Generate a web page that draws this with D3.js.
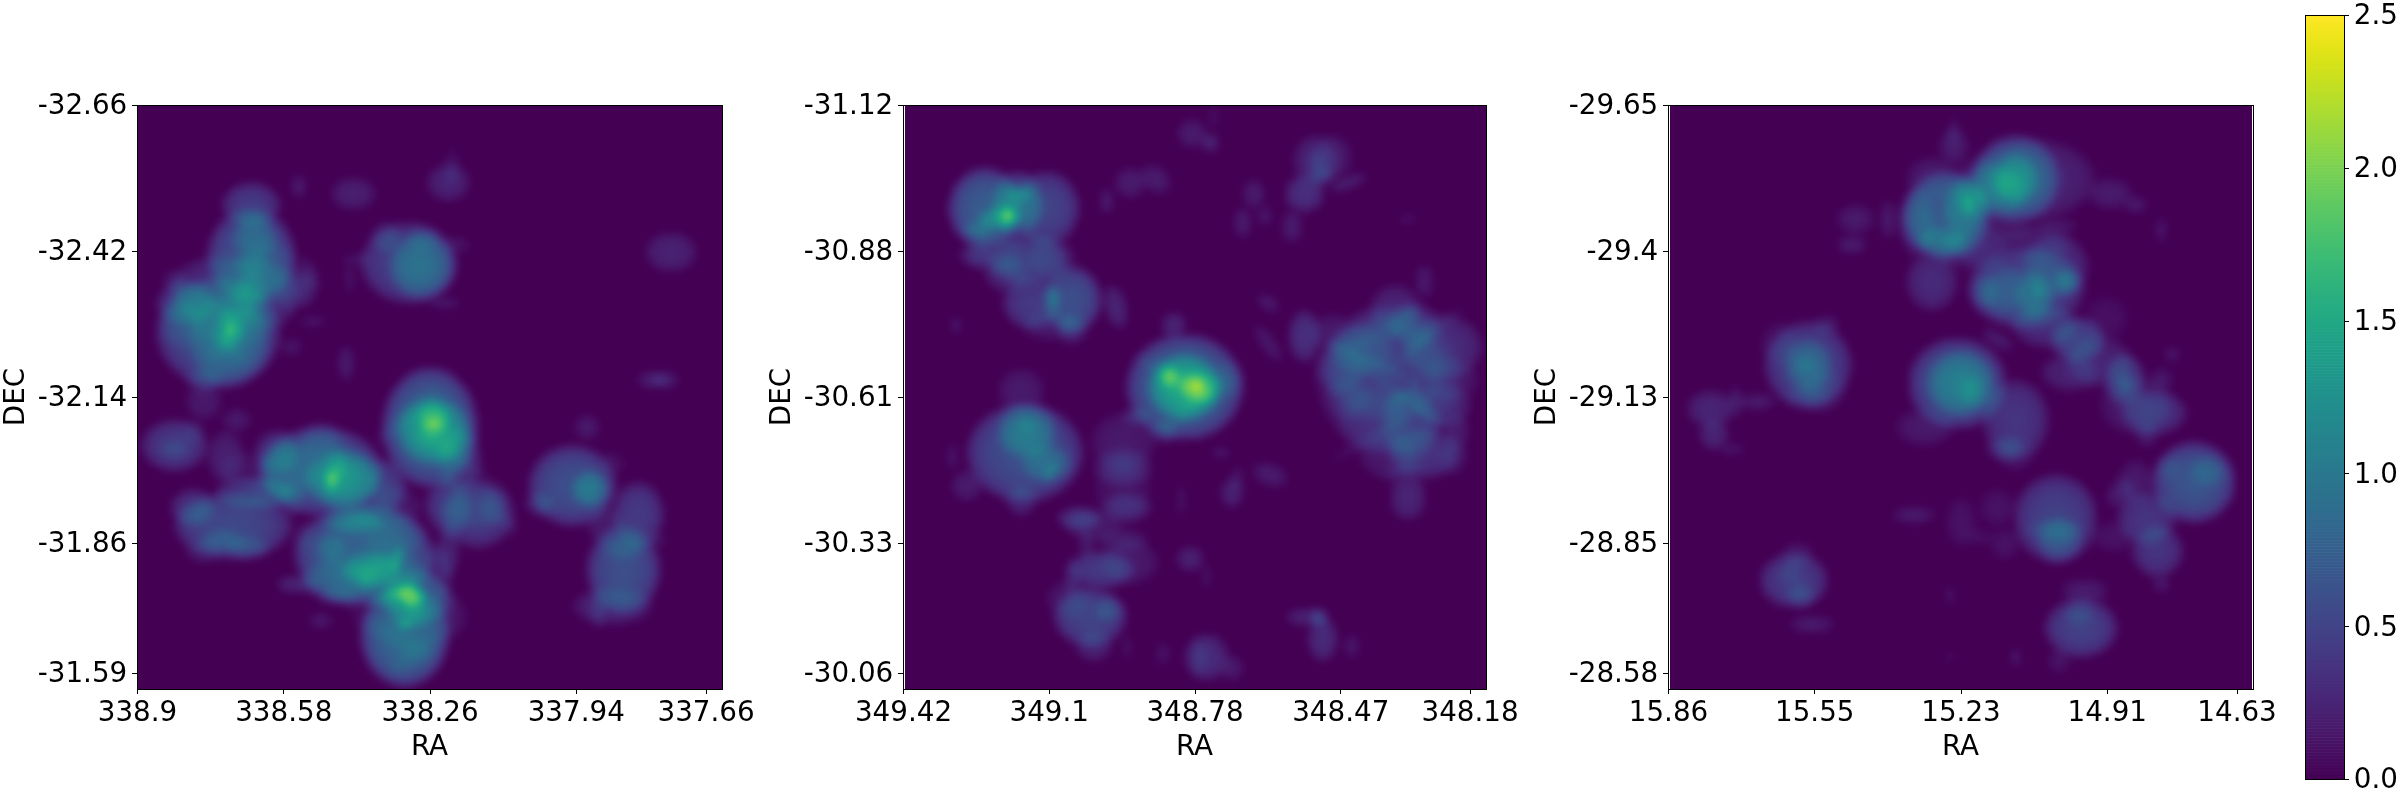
<!DOCTYPE html>
<html><head><meta charset="utf-8">
<script src="https://cdn.jsdelivr.net/npm/d3@7"></script>
<style>html,body{margin:0;padding:0;background:#fff;width:2400px;height:800px;overflow:hidden}
#w{position:relative;width:2400px;height:800px}canvas{position:absolute}svg{position:absolute;left:0;top:0}
text{font-family:"DejaVu Sans";font-size:27.78px;fill:#000}</style></head><body><div id="w"></div>
<script>
const patchesLeft=[[31,27,8,6,.42],[31,41,12,13,.62],[32,36,6,6,.3],[31,43,5,2.5,.26],[35,52,9,9,.3],[22,62,17,15,.6],[25,64,11,13,.36],[25,61,4,6,.36],[25,61,1.5,2,.36],[13,54,8,6,.36],[42,50,5,6,.18],[46,50,3,5,.17],[48,59,3,1.5,.17],[47,46,2,5,.18,-20],[42,66,3,2,.14],[10,48,3,3,.18],[18,75,5,3,.26],
[22,50,13,9,.3],[36,46,9,9,.16],[30,60,7,5,.12],[12,60,6,6,.18],[20,62,14,2.5,.12,40],[28,60,14,2.5,.12,-50],
[59,24,6,4.5,.22],[85,21,6,5,.24],[44,22,2,3,.18],[86,17,2,5,.12],[74,43,13,11,.48],[78,44,9,9,.48],[68,36,4,4,.24],[78,36,5,3,.18],[84,54,4,1.5,.18],[60,42,4,1.5,.14],[58,47,1.5,4,.14],[87,38,4,2,.14],[146,40,7,5.5,.24],[142.5,75,6,2.5,.22],[143,75,2.5,1.2,.18],[57,70.5,2,5,.19],
[80,88,13,16.5,.78],[81,89,10,9,.6],[81,86,4.5,5,.42],[81,87,2,1,.36],[88,97,6,9,.3],[85,95,12,2.5,.12,30],[74,85,12,2.5,.12,-40],
[50,100,17,12,.66],[56,102,10,8,.54],[53,103,2,3,.42],[50,92,6,5,.24],[38,95,6,6,.36],[54,99,3,5,.3,30],[68,104,5,7,.26],[62,105,12,9,.22],[42,100,8,8,.24],[30,100,8,5,.12],[36,106,6,4,.17],
[62,123,19,14,.78],[64,127,8,5,.48],[59,114,8,3,.48],[53,121,4,4,.26],[71,124,1.5,4,.42,15],[70,118,8,6,.18],[73,145,12,14,.84],[76,135,9,8,.54],[75,134,4,3,.54],[73,142,2,1.5,.54],[76,137,3,4,.18],[44,131,6,2.5,.26],[55,134,6,2,.18],[50,141,3,2,.17],[84,136,3,5,.18],[55,130,10,6,.24],[82,128,4,8,.24],[86,140,4,6,.12],[70,145,14,3,.12,30],[78,148,12,3,.12,-40],[68,110,10,6,.17],[70,130,10,8,.25],
[26,115,16,9,.54],[32,106,11,4.5,.36],[15,110,6,5,.36],[23,119,6,3,.26],[30,121,6,3,.26],[18,122,5,3,.18],[10,93,9,7,.42],[10,94,4,2,.18],[24,96,5,7,.22],[18,81,5,5,.17],[27,86,4,3,.17],[15,89,3,3,.12],[42,108,3,5,.17],[45,118,3,4,.12],
[93,112,10,9,.42],[97,110,3,5,.18],[85,110,6,8,.3],[85,122,3,7,.22],[101,114,4,2,.12,40],[90,108,12,8,.14],[119,104,12,11,.6],[124,105,5,5,.48],[110,109,4,3,.26],[123,88,3.5,3.5,.18],[130,98,3,3,.12],[137,112,7,9,.42],[133,127,10,12,.6],[130,137,11,5,.26],[126,138,2,5,.18],[133,121,6,3,.24],[142,119,3,1,.17],[128,115,5,5,.17]];
const patchesMiddle=[[22,28,10,11,.72],[39,28,9,10,.5],[31,27,7,9,.54],[26,31,6,3,.54],[28.5,29.5,2,3,.48],[31.5,24,4,2,.42],[20,34,4,2.5,.34],[34,42,11,7,.42],[20,41,5,3,.26],[28,46,6,5,.26],[25,40,8,6,.17],[40,42,7,6,.17],[40,60,8,4,.17],
[46,53,8,9,.6],[35,54,8,7,.42],[46,61,4,4,.26],[58,55,3,6,.26,-15],[41,52,1.5,3,.3],[14,60,1.5,2.5,.17],[62,21,4.5,4,.19],[69,20,4.5,3.5,.19,40],[55.5,26,2,3.5,.19],[79,7.5,4,4,.19],[84,10,2.5,2.5,.26],[85,3,1,3,.12],
[113,15,6,7,.26],[118,14,5,6,.19],[113,16,2,4,.18],[115,19,3,2,.26],[110,24,5.5,5,.34],[122,21,6,1.5,.24,-20],[106.5,33,3,4.5,.19],[96,24,3,4,.19],[93,32,2.5,4,.19],[99,30,2,3,.14],[138.5,31,2.5,1,.14,-25],
[77,77,16,14.5,.78],[77,77,10,9,.72],[72.5,74,2.5,3,.48],[81,77,5.5,4.5,.42],[80.5,76.5,2,1.5,.36],[74,60,3.5,3.5,.26],[71,89,4,3,.26],[64,85,4,2.5,.26],[89,75,4,5,.17],[75,75,14,2.5,.12,30],[80,82,13,2.5,.12,-35],
[33,95,16,13.5,.6],[33.5,89,8,7.5,.48],[33.5,87,3,2,.18],[39,98,7,5,.34],[40,100,1.5,3,.3,25],[32,78,6.5,6,.18],[17,104,4.5,4,.19],[13,96,1.5,3,.17],[32,108,4,4,.26],
[48,113,6,3,.36],[61,110,7,4,.26],[60,99,8,5,.26],[60,119,7,3,.19],[54,127,9,5,.42],[46,129,2,5,.18],[51,140,10,8,.5],[56,138,4,3,.24],[52,148,5,4,.24],[61,148,1.5,3,.12],[50,120,2,4,.17],[60,92,9,8,.17],[52,115,8,4,.17],[62,125,8,6,.17],[60,105,8,8,.12],[45,135,6,5,.17],
[78.5,124,3.5,3.5,.24],[83,129,1,4,.12],[83,151,6,6.5,.31],[81,151,2.5,5,.12],[90,154,3,3.5,.18],[71,150,2,3,.12],[110,140,5,2.5,.24],[114,140,2.5,2.5,.36],[115,146,4,6,.31],[123,148,1.8,3,.17],
[90,106,3,4,.24],[100.5,101,5,3,.19,20],[87,95,2.5,1.5,.18],[91.5,102,2,3,.14],[76,108,1.5,4,.12],[100,65,2,6,.17,-35],[100,54,3.5,2,.18,30],
[110,63,4.5,7,.34],[143,48,2.5,4.5,.18],[135,56,7,7,.26],[132,72,17,14,.24],[148,66,11,9,.32],[126,67,9,7,.26],[140,60,7,6,.3],[120,72,7,7,.22],[148,82,8,6,.26],[139,87,8,10,.3],[129,86,10,9,.2],[143,95,10,7,.36],[152,89,3.5,5,.18],[140.5,77,1,3,.36],[136,80,4,1,.24,-20],[138.5,107,5,6.5,.26],[137,100,6,1.5,.18,-15],[125,65,3,1.5,.24],[139,57,3,2,.18],
[133,75,20,20,.2],[118,62,6,5,.17],[130,60,8,5,.17],[150,75,8,6,.17],[122,80,6,6,.17],[133,96,8,6,.17],[151,96,4,5,.12],[138,80,16,1.3,.19,35],[130,90,15,1.3,.14,-30],[142,65,16,1.3,.14,-40],[128,70,14,1.3,.19,25]];
const patchesRight=[[95,20,12,12,.62],[95,20,6,7,.42],[100,20,17,11,.26],[78,11,4,5,.19],[78,7,1.5,4,.14],[76,30,12,12,.66],[81,28,6,8,.42],[75,37,7,4,.42],[82,27,1.5,3,.3],[77,36.5,2,1,.24],[72,48,7,8,.3],[92,34,8,3,.14],[106,33,6,2,.17],
[88,24,10,8,.24],[85,38,8,6,.17],[68,32,5,9,.3],[72,20,7,6,.19],[90,50,8,8,.18],[100,38,10,5,.17],[85,22,8,8,.16],[83,40,10,5,.15],[96,52,10,8,.15],[120,58,6,6,.1],
[51,31,5,4,.18],[50,38,4,2.5,.19],[60,31,2.5,5,.17],[121,24,6,4,.19],[128,27,3,2,.19],[135,34,1.5,3,.18],[98,50,16,11,.46],[106,44,9,9,.32],[109,48,3.5,3,.4],[100,52,5,6,.32],[101,51.5,1.5,2,.24],[87,51,3.5,4.5,.24],[103,60,9,6,.3],[112,64,7.5,6,.5],[90,64,5,2,.19,30],
[79,76,13.5,12.5,.62],[80,76,9.5,9,.46],[83,78,3.5,4,.24],[95,86,9,11,.38],[92,94,5,3,.24],[38,71,12,12,.5],[38,71,6.5,7,.36],[37,71,3,2,.18],[43,60,3.5,2.5,.19],[38,79,6,3,.19],[30,65,5,6,.12],[42,78,6,6,.12],
[11,83,6.5,5,.26],[12,90,4,4,.26],[18,81,2,4,.19],[24,81,5,2,.19],[17,94,3,1.5,.17],[110,73,8,5,.24],[125,75,5.5,7,.43],[125,76,2,3,.22],[133,84,9,6,.36],[135,75,3,3,.17],[131,90,3,3,.19],[138,68,2,2.5,.14],[118,70,9,7,.24],[128,82,10,8,.17],
[144,103,11.5,11,.66],[148,100,5,4,.22],[137,99,3,3,.14],[131,113,8,7,.38],[134,122,7,7,.38],[135,131,2.5,2,.17],[124,106,4.5,3.5,.19,-40],[128,103,5,6,.17],[122,118,6,4,.12],[106,113,11.5,12,.48],[107,119,6,6,.3],[106,116,8,3,.18],[95,95,5,5,.12],[70,88,8,5,.17],
[80,114,4,7,.12],[90,110,5,5,.12],[92,120,4,4,.12],[85,118,4,2,.1],[67,112,6,2,.19],
[113,143,10,8,.48],[112.5,139,4,3,.18],[114,133,6.5,3.5,.19],[107,152,3,3,.14],[95,151,1.5,2,.19],[77,134,1,2,.17],[77,151,1,1,.12],[34,130,9.5,7.5,.43],[36,134,4,3,.24],[35,123,4,3.5,.18],[39,142,6,2.5,.18],[33,128,3,3,.12]];
const tickCells=[0,40,80,120,155.5];
const raLeft=["338.9","338.58","338.26","337.94","337.66"], decLeft=["-32.66","-32.42","-32.14","-31.86","-31.59"];
const raMiddle=["349.42","349.1","348.78","348.47","348.18"], decMiddle=["-31.12","-30.88","-30.61","-30.33","-30.06"];
const raRight=["15.86","15.55","15.23","14.91","14.63"], decRight=["-29.65","-29.4","-29.13","-28.85","-28.58"];
const colorTicks=[0,0.5,1,1.5,2,2.5];
const cellCount=160;

const color=d3.scaleSequential(d3.interpolateViridis).domain([0,2.5]).clamp(true);
const wrap=d3.select("#w");
const panels=[
 {patches:patchesLeft,ra:raLeft,dec:decLeft,x0:137,x1:722,ix0:137.5,ix1:722},
 {patches:patchesMiddle,ra:raMiddle,dec:decMiddle,x0:903,x1:1486,ix0:905,ix1:1486},
 {patches:patchesRight,ra:raRight,dec:decRight,x0:1668,x1:2253,ix0:1669.5,ix1:2252}];
const y0=105,y1=689;
panels.forEach(p=>{
 const grid=new Float32Array(cellCount*cellCount);
 p.patches.forEach(([cx,cy,rx,ry,v,tilt=0])=>{
  const a=tilt*Math.PI/180,ca=Math.cos(a),sa=Math.sin(a),R=Math.max(rx,ry);
  for(let r=Math.max(0,Math.floor(cy-R));r<Math.min(cellCount,Math.ceil(cy+R)+1);r++)
  for(let c=Math.max(0,Math.floor(cx-R));c<Math.min(cellCount,Math.ceil(cx+R)+1);c++){
    const ox=c+.5-cx,oy=r+.5-cy,dx=(ox*ca+oy*sa)/rx,dy=(-ox*sa+oy*ca)/ry,d2=dx*dx+dy*dy;
    if(d2<=1)grid[r*cellCount+c]+=v*Math.pow(1-d2,0.4);
  }
 });
 d3.blur2({data:grid,width:cellCount,height:cellCount},0.35);
 const cv=wrap.append("canvas").attr("width",cellCount).attr("height",cellCount)
  .style("left",p.ix0+"px").style("top",(y0+.5)+"px").style("width",(p.ix1-p.ix0)+"px").style("height",(y1-y0)+"px");
 const ctx=cv.node().getContext("2d");
 for(let r=0;r<cellCount;r++)for(let c=0;c<cellCount;c++){ctx.fillStyle=color(grid[r*cellCount+c]);ctx.fillRect(c,r,1,1);}
});
const svg=wrap.append("svg").attr("width",2400).attr("height",800);
panels.forEach(p=>{
 const x=d3.scaleLinear([0,cellCount],[p.x0,p.x1]), y=d3.scaleLinear([0,cellCount],[y0,y1]);
 const ax=d3.axisBottom(x).tickValues(tickCells).tickFormat((d,i)=>p.ra[i]).tickSize(4.86).tickPadding(7.3);
 const ay=d3.axisLeft(y).tickValues(tickCells).tickFormat((d,i)=>p.dec[i]).tickSize(4.86).tickPadding(4.86);
 const gx=svg.append("g").attr("transform",`translate(0,${y1})`).call(ax);
 const gy=svg.append("g").attr("transform",`translate(${p.x0},0)`).call(ay);
 [gx,gy].forEach(g=>{g.select(".domain").remove();g.selectAll("line").attr("stroke","#000").attr("stroke-width",1).attr("shape-rendering","crispEdges");g.attr("font-family",null).attr("font-size",null);});
 svg.append("rect").attr("x",p.x0).attr("y",y0).attr("width",p.x1-p.x0).attr("height",y1-y0).attr("fill","none").attr("stroke","#000").attr("stroke-width",1).attr("shape-rendering","crispEdges");
 svg.append("text").attr("x",(p.x0+p.x1)/2).attr("y",755).attr("text-anchor","middle").text("RA");
 svg.append("text").attr("transform",`translate(${p.x0-113},${(y0+y1)/2}) rotate(-90)`).attr("text-anchor","middle").text("DEC");
});
// colour bar
const cy=d3.scaleLinear([0,2.5],[779,15]);
svg.append("g").selectAll("rect").data(d3.range(256)).join("rect")
 .attr("x",2305).attr("width",39).attr("y",d=>cy((d+1)/256*2.5)).attr("height",d=>cy(d/256*2.5)-cy((d+1)/256*2.5)+.6)
 .attr("fill",d=>color((d+.5)/256*2.5));
svg.append("rect").attr("x",2305).attr("y",15).attr("width",39).attr("height",764).attr("fill","none").attr("stroke","#000").attr("stroke-width",1).attr("shape-rendering","crispEdges");
const gc=svg.append("g").attr("transform","translate(2344,0)").call(d3.axisRight(cy).tickValues(colorTicks).tickFormat(d3.format(".1f")).tickSize(4.86).tickPadding(4.86));
gc.select(".domain").remove();gc.selectAll("line").attr("stroke","#000").attr("stroke-width",1).attr("shape-rendering","crispEdges");gc.attr("font-family",null).attr("font-size",null);
</script></body></html>
